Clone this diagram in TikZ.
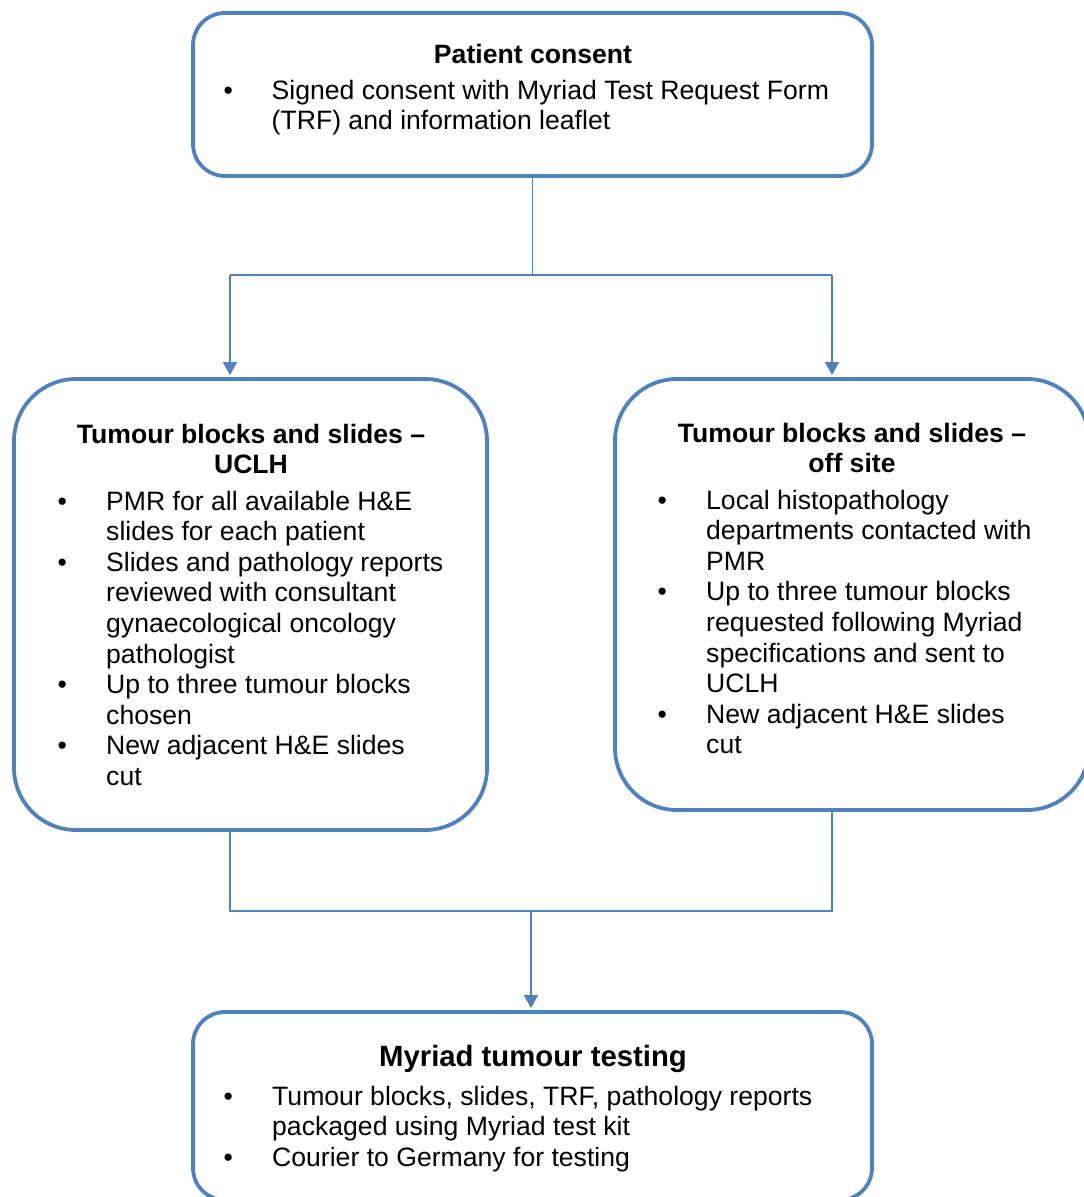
\documentclass[tikz,border=0pt]{standalone}
\usepackage{fontspec}
\setmainfont{Liberation Sans}
\usetikzlibrary{arrows.meta}
\definecolor{boxblue}{RGB}{79,129,189}
\newcommand{\bl}{\textbullet}
\begin{document}
\begin{tikzpicture}[x=1pt,y=-1pt,
  box/.style={draw=boxblue, line width=3.8pt, inner sep=0pt, fill=white},
  conn/.style={draw=boxblue, line width=1.8pt},
  arr/.style={conn, -{Triangle[width=14pt,length=13pt]}, shorten >=2pt},
  ttl/.style={font=\fontsize{26.6}{30.6}\selectfont\bfseries, inner sep=0pt, anchor=base},
  bigttl/.style={font=\fontsize{29.3}{33}\selectfont\bfseries, inner sep=0pt, anchor=base},
  lst/.style={font=\fontsize{26.6}{30.6}\selectfont, inner sep=0pt, anchor=base west},
]
\useasboundingbox (0,0) rectangle (1084,1197);
\clip (0,0) rectangle (1084,1197);

% boxes
\node[box, rounded corners=32pt, minimum width=679pt, minimum height=163pt] (consent) at (532.5,94.5) {};
\node[box, rounded corners=62pt, minimum width=473pt, minimum height=451pt] (uclh) at (250.5,604.5) {};
\node[box, rounded corners=62pt, minimum width=474pt, minimum height=431pt] (offsite) at (852,594.5) {};
\node[box, rounded corners=32pt, minimum width=679pt, minimum height=188pt] (testing) at (532.5,1106) {};

% texts
\node[ttl] (t1) at (533,63) {Patient consent};
\node[lst] (l1) at (223.5,99) {\begin{tabular}[t]{@{}p{48pt}@{}l@{}}
\bl & Signed consent with Myriad Test Request Form\\
 & (TRF) and information leaflet
\end{tabular}};

\node[ttl] (t2) at (251,443) {\begin{tabular}[t]{@{}c@{}}Tumour blocks and slides --\\UCLH\end{tabular}};
\node[lst] (l2) at (57.5,510) {\begin{tabular}[t]{@{}p{48.5pt}@{}l@{}}
\bl & PMR for all available H\&E\\
 & slides for each patient\\
\bl & Slides and pathology reports\\
 & reviewed with consultant\\
 & gynaecological oncology\\
 & pathologist\\
\bl & Up to three tumour blocks\\
 & chosen\\
\bl & New adjacent H\&E slides\\
 & cut
\end{tabular}};

\node[ttl] (t3) at (852,442) {\begin{tabular}[t]{@{}c@{}}Tumour blocks and slides --\\off site\end{tabular}};
\node[lst] (l3) at (657.5,509) {\begin{tabular}[t]{@{}p{48.5pt}@{}l@{}}
\bl & Local histopathology\\
 & departments contacted with\\
 & PMR\\
\bl & Up to three tumour blocks\\
 & requested following Myriad\\
 & specifications and sent to\\
 & UCLH\\
\bl & New adjacent H\&E slides\\
 & cut
\end{tabular}};

\node[bigttl] (t4) at (533,1066) {Myriad tumour testing};
\node[lst] (l4) at (223.5,1105) {\begin{tabular}[t]{@{}p{48.5pt}@{}l@{}}
\bl & Tumour blocks, slides, TRF, pathology reports\\
 & packaged using Myriad test kit\\
\bl & Courier to Germany for testing
\end{tabular}};

% connectors
\coordinate (split) at (532.5,275);
\coordinate (jl) at (230,275);
\coordinate (jr) at (832,275);
\draw[conn] (consent.south) -- (split);
\draw[conn] (jl) -- (jr);
\draw[arr] (jl) -- (jl |- uclh.north);
\draw[arr] (jr) -- (jr |- offsite.north);

\coordinate (ml) at (230,911);
\coordinate (mr) at (832,911);
\coordinate (merge) at (531,911);
\draw[conn] (ml |- uclh.south) -- (ml) -- (mr) -- (mr |- offsite.south);
\draw[arr] (merge) -- (merge |- testing.north);
\end{tikzpicture}
\end{document}
